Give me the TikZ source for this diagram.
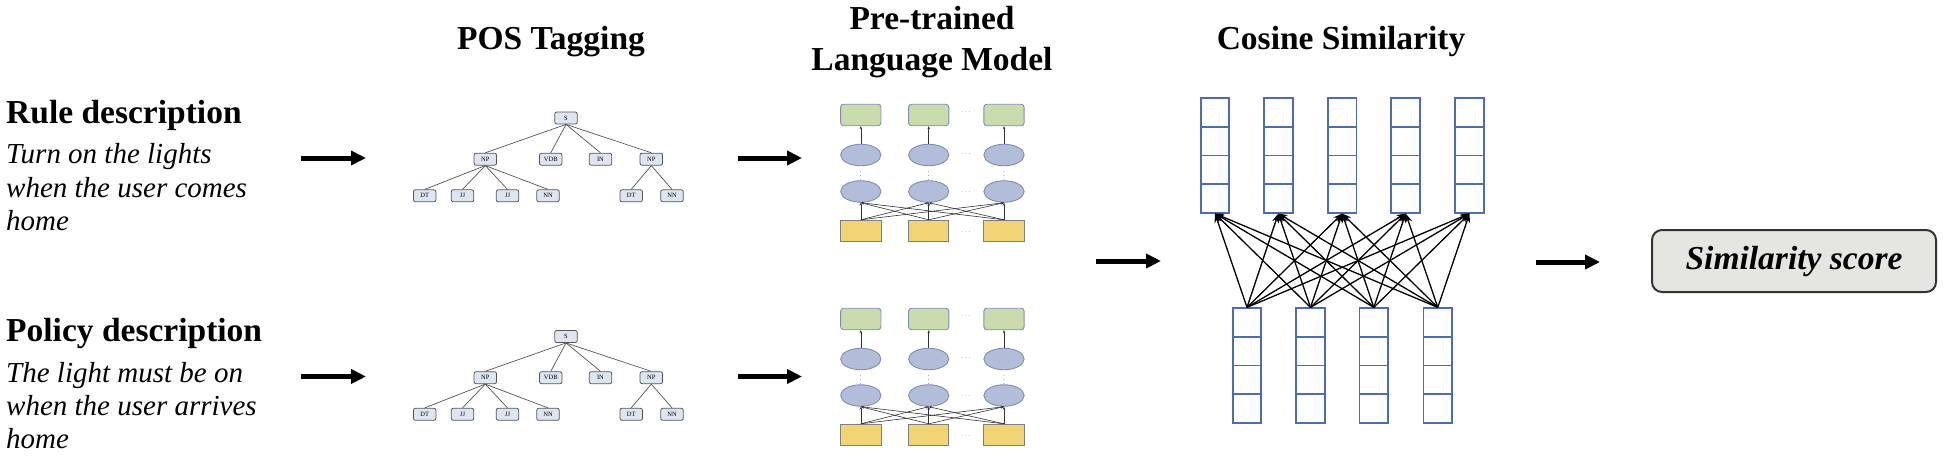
\documentclass[tikz,border=0pt]{standalone}
\usepackage{fontspec}
\setmainfont{Liberation Serif}[
  BoldFont=Liberation Serif Bold,
  ItalicFont=Liberation Serif Italic,
  BoldItalicFont=Liberation Serif Bold Italic]
\usetikzlibrary{arrows.meta,shapes.geometric}

\definecolor{treefill}{RGB}{221,230,240}
\definecolor{treeline}{RGB}{85,85,85}
\definecolor{embgreen}{RGB}{202,220,174}
\definecolor{layerblue}{RGB}{178,189,217}
\definecolor{lmline}{RGB}{128,142,180}
\definecolor{tokyellow}{RGB}{241,213,117}
\definecolor{vecblue}{RGB}{75,110,175}
\definecolor{scorefill}{RGB}{230,230,225}

\begin{document}
\begin{tikzpicture}[x=1pt,y=-1pt,
    bigarrow/.style={line width=5pt,-{Triangle[length=15pt,width=14pt]}},
    heading/.style={inner sep=0,font=\fontsize{33.5}{41}\selectfont\bfseries},
    sentence/.style={inner sep=0,align=left,anchor=north west,font=\fontsize{29}{33.2}\selectfont\itshape}]

  \useasboundingbox (0,0) rectangle (1943,458);

  % titles
  \node[heading,anchor=base] (postitle) at (551,49) {POS Tagging};
  \node[heading,anchor=north,align=center] (lmtitle) at (932,6.4) {Pre-trained\\Language Model};
  \node[heading,anchor=base] (costitle) at (1341,49) {Cosine Similarity};

  % inputs
  \node[heading,anchor=base west] (rulehead) at (6,123.3) {Rule description};
  \node[sentence] (ruletext) at (6,143.5) {Turn on the lights\\when the user comes\\home};
  \node[heading,anchor=base west] (polhead) at (6,341.8) {Policy description};
  \node[sentence] (poltext) at (6,362) {The light must be on\\when the user arrives\\home};

  % POS trees
  \foreach \row/\dy in {r/0,p/218.5} {
    \begin{scope}[shift={(0,\dy)},every node/.style={draw=treeline,fill=treefill,line width=0.8pt,
        rounded corners=2pt,minimum width=22.5pt,minimum height=12pt,inner sep=0,
        font=\fontsize{6.5}{7}\selectfont}]
      \node (\row S)   at (566,118)     {S};
      \node (\row NP1) at (485.3,159.2) {NP};
      \node (\row VDB) at (550.8,159.2) {VDB};
      \node (\row IN)  at (600.5,159.2) {IN};
      \node (\row NP2) at (651.3,159.2) {NP};
      \node (\row DT1) at (424.7,195.8) {DT};
      \node (\row JJ1) at (462.5,195.8) {JJ};
      \node (\row JJ2) at (507.5,195.8) {JJ};
      \node (\row NN1) at (548,195.8)   {NN};
      \node (\row DT2) at (631.2,195.8) {DT};
      \node (\row NN2) at (672,195.8)   {NN};
    \end{scope}
    \begin{scope}[treeline,line width=0.7pt]
      \foreach \c in {NP1,VDB,IN,NP2}
        \draw (\row S.south) -- (\row\c.north);
      \foreach \c in {DT1,JJ1,JJ2,NN1}
        \draw (\row NP1.south) -- (\row\c.north);
      \foreach \c in {DT2,NN2}
        \draw (\row NP2.south) -- (\row\c.north);
    \end{scope}
  }

  % language model
  \foreach \row/\dy in {r/0,p/204} {
    \begin{scope}[shift={(0,\dy)}]
      \begin{scope}[every node/.style={line width=0.9pt,minimum width=40.3pt,minimum height=21.5pt,inner sep=0}]
        \foreach \c/\x in {1/860.8,2/928.7,3/1004} {
          \node[draw=lmline,fill=embgreen,rounded corners=3pt] (\row o\c) at (\x,115) {};
          \node[draw=lmline,fill=layerblue,ellipse] (\row h\c) at (\x,155) {};
          \node[draw=lmline,fill=layerblue,ellipse] (\row g\c) at (\x,191.5) {};
          \node[draw=gray,fill=tokyellow] (\row i\c) at (\x,231) {};
        }
      \end{scope}
      \begin{scope}[every node/.style={inner sep=0,text=darkgray,font=\fontsize{7}{7}\selectfont}]
        \foreach \c/\x in {1/860.8,2/928.7,3/1004}
          \node (\row v\c) at (\x,173) {$\vdots$};
        \foreach \k/\y in {1/112,2/154,3/192,4/232}
          \node (\row d\k) at (966,\y) {$\cdots$};
      \end{scope}
      \begin{scope}[draw=black!80,line width=0.6pt,-{Stealth[length=3pt,width=2.5pt]}]
        \foreach \c in {1,2,3}
          \draw (\row h\c.north) -- (\row o\c.south);
        \foreach \a in {1,2,3}
          \foreach \b in {1,2,3}
            \draw (\row i\a.north) -- (\row g\b.south);
      \end{scope}
    \end{scope}
  }

  % cosine similarity
  \begin{scope}[every node/.style={draw=vecblue,line width=1.8pt,
      minimum width=28.7pt,minimum height=28.6pt,inner sep=0}]
    \foreach \i/\x in {1/1215,2/1278.3,3/1342.2,4/1405.7,5/1469.5}
      \foreach \k in {1,...,4}
        \node (t\i\k) at (\x,{112.6+(\k-1)*28.6}) {};
    \foreach \j/\x in {1/1247,2/1310.5,3/1373.8,4/1437.8}
      \foreach \k in {1,...,4}
        \node (b\j\k) at (\x,{322.6+(\k-1)*28.6}) {};
  \end{scope}
  \foreach \j in {1,...,4}
    \foreach \i in {1,...,5}
      \draw[line width=1.3pt,-{Stealth[length=9pt,width=7pt]}] (b\j1.north) -- (t\i4.south);

  % score
  \node[draw=black!80,fill=scorefill,line width=2pt,rounded corners=10pt,
        minimum width=284pt,minimum height=62pt,
        font=\fontsize{33.5}{41}\selectfont\bfseries\itshape] (score) at (1794,261) {Similarity score};

  % stage arrows
  \coordinate (ra0) at (301,158);    \coordinate (ra1) at (366,158);
  \coordinate (ra2) at (738,158);    \coordinate (ra3) at (802,158);
  \coordinate (pa0) at (301,376.5);  \coordinate (pa1) at (366,376.5);
  \coordinate (pa2) at (738,376.5);  \coordinate (pa3) at (802,376.5);
  \coordinate (ca0) at (1096,261);   \coordinate (ca1) at (1161,261);
  \coordinate (sa0) at (1536,262);   \coordinate (sa1) at (1600,262);
  \draw[bigarrow] (ra0) -- (ra1);
  \draw[bigarrow] (ra2) -- (ra3);
  \draw[bigarrow] (pa0) -- (pa1);
  \draw[bigarrow] (pa2) -- (pa3);
  \draw[bigarrow] (ca0) -- (ca1);
  \draw[bigarrow] (sa0) -- (sa1);

\end{tikzpicture}
\end{document}
